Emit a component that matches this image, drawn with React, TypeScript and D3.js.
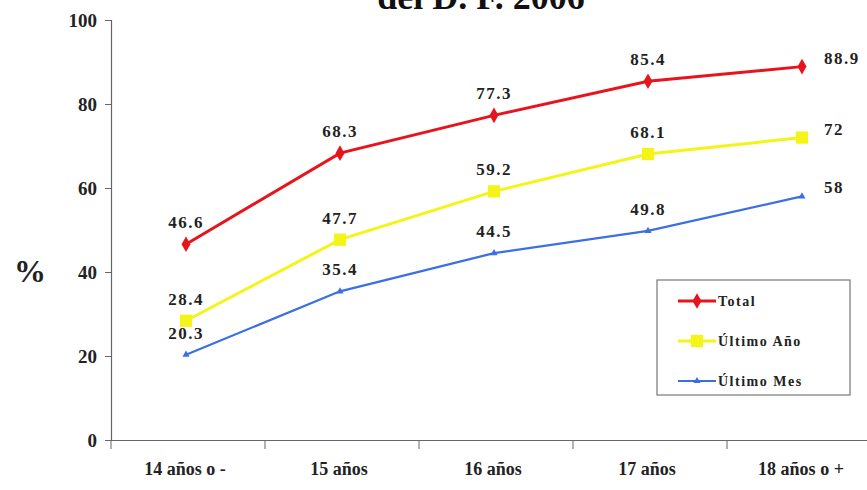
import { useEffect, useRef } from 'react'
import * as d3 from 'd3'

const categories = ['14 años o -', '15 años', '16 años', '17 años', '18 años o +']
const total = [46.6, 68.3, 77.3, 85.4, 88.9]
const ultimoAno = [28.4, 47.7, 59.2, 68.1, 72]
const ultimoMes = [20.3, 35.4, 44.5, 49.8, 58]
const yTicks = [0, 20, 40, 60, 80, 100]

const seriesList = [
  { name: 'Total', values: total, color: '#e8141c', symbol: d3.symbolDiamond, size: 70 },
  { name: 'Último Año', values: ultimoAno, color: '#f4f418', symbol: d3.symbolSquare, size: 150 },
  { name: 'Último Mes', values: ultimoMes, color: '#3b6fe3', symbol: d3.symbolTriangle, size: 22 }
]

const FONT = 'Liberation Serif, Tinos, Times New Roman, DejaVu Serif, serif'

export default function App() {
  const svgRef = useRef<SVGSVGElement>(null)

  useEffect(() => {
    if (!svgRef.current) return
    const svg = d3.select(svgRef.current)
    svg.selectAll('*').remove()

    const width = 867
    const height = 490
    const margin = { top: 20, right: -14, bottom: 50, left: 111 }

    svg.append('rect').attr('width', width).attr('height', height).attr('fill', '#ffffff')

    // title (mostly cut off at the top, as in the source image)
    svg.append('text')
      .attr('x', 481)
      .attr('y', 9)
      .attr('text-anchor', 'middle')
      .attr('font-family', FONT)
      .attr('font-weight', 'bold')
      .attr('font-size', 36)
      .attr('fill', '#111')
      .text('del D. F. 2006')

    const x = d3.scaleBand<string>()
      .domain(categories)
      .range([margin.left, width - margin.right])

    const y = d3.scaleLinear()
      .domain([0, 100])
      .range([height - margin.bottom, margin.top])

    const cx = (c: string) => (x(c) ?? 0) + x.bandwidth() / 2 - 2

    // y axis
    const yAxis = svg.append('g')
      .attr('transform', `translate(${margin.left},0)`)
      .call(d3.axisLeft(y).tickValues(yTicks).tickSize(6).tickPadding(8))
    yAxis.attr('font-family', FONT).attr('font-size', 19).attr('font-weight', 'bold')
    yAxis.select('.domain').attr('stroke', '#666').attr('stroke-width', 1.2)
    yAxis.selectAll('.tick line').attr('stroke', '#666')
    yAxis.selectAll('.tick text').attr('fill', '#222')

    // x axis
    const xAxis = svg.append('g')
      .attr('transform', `translate(0,${y(0)})`)
      .call(d3.axisBottom(x).tickSize(0).tickPadding(22))
    xAxis.attr('font-family', FONT).attr('font-size', 18).attr('font-weight', 'bold')
    xAxis.select('.domain').attr('stroke', '#666').attr('stroke-width', 1.2)
    xAxis.selectAll('.tick text')
      .attr('fill', '#222')
      .attr('dx', -3)
    // ticks between categories
    svg.append('g')
      .selectAll('line')
      .data(categories)
      .join('line')
      .attr('x1', d => x(d) ?? 0)
      .attr('x2', d => x(d) ?? 0)
      .attr('y1', y(0))
      .attr('y2', y(0) + 9)
      .attr('stroke', '#666')

    // y label
    svg.append('text')
      .attr('x', 30)
      .attr('y', y(40) + 10)
      .attr('text-anchor', 'middle')
      .attr('font-family', FONT)
      .attr('font-weight', 'bold')
      .attr('font-size', 32)
      .attr('fill', '#222')
      .text('%')

    const line = d3.line<number>()
      .x((_, i) => cx(categories[i]))
      .y(d => y(d))

    seriesList.forEach(s => {
      svg.append('path')
        .datum(s.values)
        .attr('fill', 'none')
        .attr('stroke', s.color)
        .attr('stroke-width', s.name === 'Último Mes' ? 2.2 : 3)
        .attr('d', line)

      svg.append('g')
        .selectAll('path')
        .data(s.values)
        .join('path')
        .attr('transform', (d, i) => `translate(${cx(categories[i])},${y(d)})`)
        .attr('d', d3.symbol().type(s.symbol).size(s.size)())
        .attr('fill', s.color)

      // data labels
      svg.append('g')
        .selectAll('text')
        .data(s.values)
        .join('text')
        .attr('x', (d, i) => i === categories.length - 1 ? cx(categories[i]) + 22 : cx(categories[i]))
        .attr('y', (d, i) => i === categories.length - 1 ? y(d) - 3 : y(d) - 16)
        .attr('text-anchor', (d, i) => i === categories.length - 1 ? 'start' : 'middle')
        .attr('font-family', FONT)
        .attr('font-weight', 'bold')
        .attr('font-size', 17)
        .attr('letter-spacing', 1.5)
        .attr('fill', '#222')
        .text(d => String(d))
    })

    // legend
    const lg = svg.append('g').attr('transform', 'translate(657,280)')
    lg.append('rect')
      .attr('width', 193)
      .attr('height', 115)
      .attr('fill', '#fff')
      .attr('stroke', '#777')
      .attr('stroke-width', 1.2)
    seriesList.forEach((s, i) => {
      const gy = 21 + i * 40
      lg.append('line')
        .attr('x1', 21)
        .attr('x2', 59)
        .attr('y1', gy)
        .attr('y2', gy)
        .attr('stroke', s.color)
        .attr('stroke-width', s.name === 'Último Mes' ? 2.2 : 3)
      lg.append('path')
        .attr('transform', `translate(40,${gy})`)
        .attr('d', d3.symbol().type(s.symbol).size(s.size)())
        .attr('fill', s.color)
      lg.append('text')
        .attr('x', 61)
        .attr('y', gy + 5)
        .attr('font-family', FONT)
        .attr('font-weight', 'bold')
        .attr('font-size', 14)
        .attr('letter-spacing', 1.5)
        .attr('fill', '#222')
        .text(s.name)
    })
  }, [])

  return (
    <svg
      ref={svgRef}
      width={867}
      height={490}
      style={{ position: 'absolute', left: 0, top: 0, display: 'block' }}
    />
  )
}
